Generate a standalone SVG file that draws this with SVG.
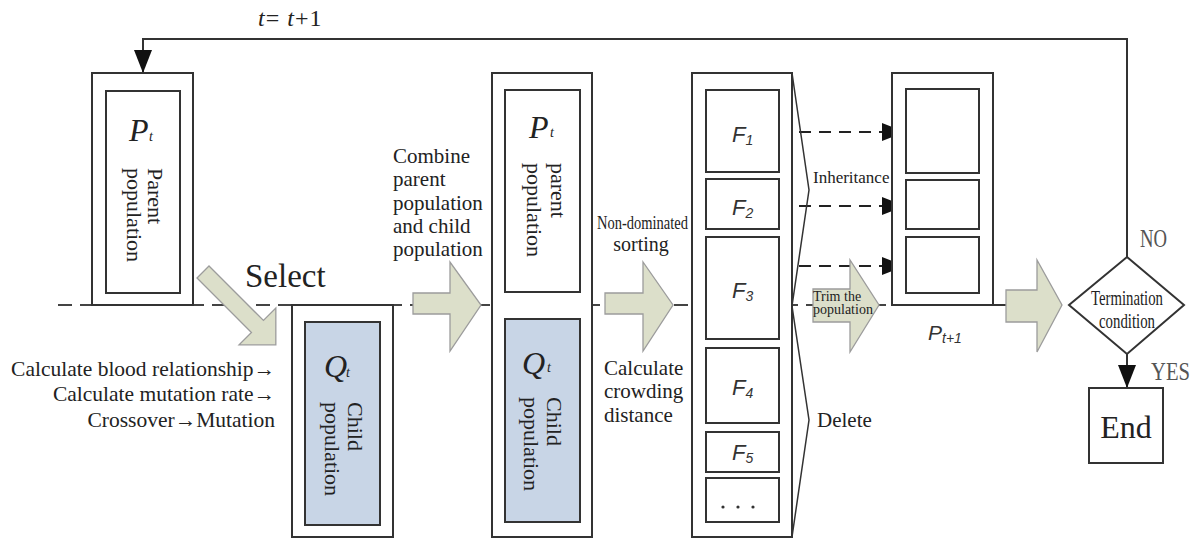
<svg xmlns="http://www.w3.org/2000/svg" width="1199" height="538" viewBox="0 0 1199 538">
<defs>
<style>
.box{fill:#fff;stroke:#333;stroke-width:2}
.blue{fill:#c8d5e6;stroke:#333;stroke-width:2}
.barrow{fill:#dcdfca;stroke:#9c9c9c;stroke-width:1.3}
.ln{fill:none;stroke:#333;stroke-width:2}
.thin{fill:none;stroke:#333;stroke-width:1.5}
.dash{fill:none;stroke:#444;stroke-width:2;stroke-dasharray:14 8}
.darr{fill:none;stroke:#222;stroke-width:2;stroke-dasharray:12 8}
.t{font-family:"Liberation Serif","Times New Roman",serif;fill:#222}
.s{font-family:"Liberation Sans",Arial,sans-serif;font-style:italic;fill:#333}
.i{font-style:italic}
</style>
<marker id="ah" markerUnits="userSpaceOnUse" markerWidth="24" markerHeight="18" refX="23" refY="9" orient="auto"><path d="M0,0 L23,9 L0,18 z" fill="#111"/></marker>
</defs>

<g id="connectors">
<path class="dash" d="M58,305 H1069"/>
<path class="ln" d="M1127,257 V39 H143 V73" marker-end="url(#ah)"/>
<path class="ln" d="M1127,354 V388" marker-end="url(#ah)"/>
<path class="darr" d="M779,132 H905" marker-end="url(#ah)"/>
<path class="darr" d="M779,206 H905" marker-end="url(#ah)"/>
<path class="darr" d="M779,266 H905" marker-end="url(#ah)"/>
<path class="ln" d="M993,305 H1006"/>
</g>

<g id="label-iter">
<text class="t" x="258" y="26" font-size="24" letter-spacing="1"><tspan class="i">t</tspan>= <tspan class="i">t</tspan>+1</text>
</g>

<g id="node-pt">
<rect class="box" x="92" y="73" width="101" height="232"/>
<rect class="box" x="106" y="91" width="74" height="202"/>
<text class="t i" x="129" y="141" font-size="32">P</text>
<text class="t i" x="149" y="141" font-size="14">t</text>
<text class="t" font-size="22" transform="translate(148,168) rotate(90)">Parent</text>
<text class="t" font-size="22" transform="translate(127,168) rotate(90)">population</text>
</g>

<g id="select-arrow">
<polygon class="barrow" transform="translate(203,272) rotate(45)" points="0,-8.5 77,-8.5 77,-26 103,0 77,26 77,8.5 0,8.5"/>
<text class="t" x="245" y="287" font-size="33">Select</text>
</g>

<g id="ops-text">
<text class="t" x="275" y="376" font-size="21.5" text-anchor="end">Calculate blood relationship→</text>
<text class="t" x="275" y="401" font-size="21.5" text-anchor="end">Calculate mutation rate→</text>
<text class="t" x="275" y="427" font-size="21.5" text-anchor="end">Crossover→Mutation</text>
</g>

<g id="node-qt">
<rect class="box" x="292" y="305" width="101" height="232"/>
<rect class="blue" x="305" y="322" width="75" height="203"/>
<text class="t i" x="324" y="377" font-size="32">Q</text>
<text class="t i" x="346" y="377" font-size="14">t</text>
<text class="t" font-size="22" transform="translate(348,402) rotate(90)">Child</text>
<text class="t" font-size="22" transform="translate(325,402) rotate(90)">population</text>
</g>

<g id="arrow-combine">
<polygon class="barrow" points="413,293 450,293 450,262 481,305 450,351 450,314 413,314"/>
<text class="t" font-size="21"><tspan x="393" y="163">Combine</tspan><tspan x="393" y="186">parent</tspan><tspan x="393" y="210">population</tspan><tspan x="393" y="233">and child</tspan><tspan x="393" y="256">population</tspan></text>
</g>

<g id="node-rt">
<rect class="box" x="492" y="73" width="100" height="464"/>
<rect class="box" x="505" y="90" width="75" height="202"/>
<rect class="blue" x="505" y="319" width="75" height="203"/>
<text class="t i" x="529" y="138" font-size="32">P</text>
<text class="t i" x="550" y="137" font-size="14">t</text>
<text class="t" font-size="22" transform="translate(551,163) rotate(90)">parent</text>
<text class="t" font-size="22" transform="translate(527,163) rotate(90)">population</text>
<text class="t i" x="522" y="374" font-size="32">Q</text>
<text class="t i" x="547" y="372" font-size="14">t</text>
<text class="t" font-size="22" transform="translate(547,397) rotate(90)">Child</text>
<text class="t" font-size="22" transform="translate(524,397) rotate(90)">population</text>
</g>

<g id="arrow-sort">
<polygon class="barrow" points="605,293 643,293 643,262 673,305 643,351 643,314 605,314"/>
<text class="t" x="597" y="229" font-size="19" textLength="91" lengthAdjust="spacingAndGlyphs">Non-dominated</text>
<text class="t" x="641" y="251" font-size="20" text-anchor="middle">sorting</text>
<text class="t" font-size="21"><tspan x="604" y="375">Calculate</tspan><tspan x="604" y="398">crowding</tspan><tspan x="604" y="422">distance</tspan></text>
</g>

<g id="node-fronts">
<rect class="box" x="692" y="73" width="100" height="464"/>
<rect class="box" x="706" y="90" width="73" height="82"/>
<rect class="box" x="706" y="179" width="73" height="50"/>
<rect class="box" x="706" y="237" width="73" height="102"/>
<rect class="box" x="706" y="348" width="73" height="75"/>
<rect class="box" x="706" y="432" width="73" height="40"/>
<rect class="box" x="706" y="478" width="73" height="44"/>
<text class="s" x="732" y="142" font-size="22">F<tspan font-size="14" dy="3">1</tspan></text>
<text class="s" x="732" y="215" font-size="22">F<tspan font-size="14" dy="3">2</tspan></text>
<text class="s" x="732" y="298" font-size="22">F<tspan font-size="14" dy="3">3</tspan></text>
<text class="s" x="732" y="395" font-size="22">F<tspan font-size="14" dy="3">4</tspan></text>
<text class="s" x="732" y="460" font-size="22">F<tspan font-size="14" dy="3">5</tspan></text>
<circle cx="723" cy="507" r="1.6" fill="#333"/>
<circle cx="738" cy="507" r="1.6" fill="#333"/>
<circle cx="753" cy="507" r="1.6" fill="#333"/>
<polyline class="thin" points="792,73 809,190 792,306 809,420 792,537"/>
<text class="t" x="813" y="183" font-size="17">Inheritance</text>
<text class="t" x="817" y="427" font-size="21">Delete</text>
</g>

<g id="arrow-trim">
<polygon class="barrow" points="813,289 850,289 850,260 879,305 850,352 850,322 813,322"/>
<text class="t" font-size="14"><tspan x="813" y="301">Trim the</tspan><tspan x="813" y="314">population</tspan></text>
</g>

<g id="node-pt1">
<rect class="box" x="892" y="73" width="101" height="232"/>
<rect class="box" x="906" y="89" width="73" height="84"/>
<rect class="box" x="906" y="180" width="73" height="49"/>
<rect class="box" x="906" y="237" width="73" height="56"/>
<text class="s" x="928" y="340" font-size="21">P<tspan font-size="14" dy="3">t+1</tspan></text>
</g>

<g id="arrow-term">
<polygon class="barrow" points="1006,290 1037,290 1037,260 1062,305 1037,352 1037,322 1006,322"/>
</g>

<g id="node-term">
<polygon class="box" points="1127,257 1184,305 1127,354 1069,305"/>
<text class="t" x="1127" y="305" font-size="21" text-anchor="middle" textLength="72" lengthAdjust="spacingAndGlyphs">Termination</text>
<text class="t" x="1127" y="328" font-size="21" text-anchor="middle" textLength="56" lengthAdjust="spacingAndGlyphs">condition</text>
<text class="t" x="1140" y="247" font-size="25" textLength="27" lengthAdjust="spacingAndGlyphs" style="fill:#555">NO</text>
<text class="t" x="1151" y="380" font-size="26" textLength="39" lengthAdjust="spacingAndGlyphs" style="fill:#555">YES</text>
</g>

<g id="node-end">
<rect class="box" x="1089" y="388" width="74" height="75"/>
<text class="t" x="1126" y="438" font-size="32" text-anchor="middle">End</text>
</g>
</svg>
